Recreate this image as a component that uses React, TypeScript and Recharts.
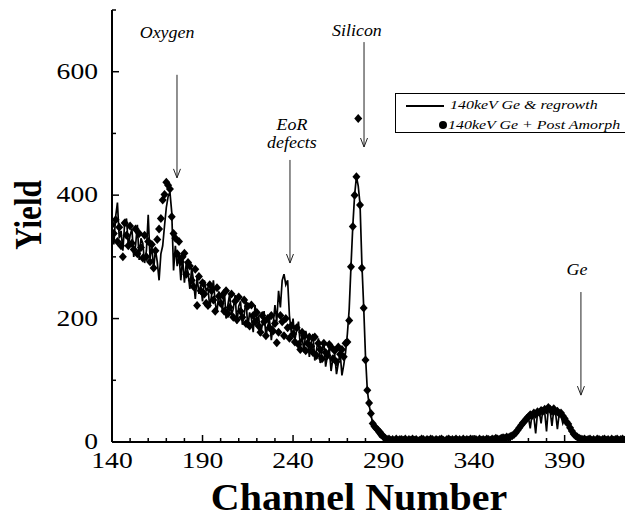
import React from 'react';
import { ComposedChart, Line, Scatter, XAxis, YAxis, ReferenceLine, ReferenceDot, Legend } from 'recharts';

const CHANNEL_START = 140;

// 140keV Ge & regrowth (line), one value per channel 140..425
const regrowth = [
  350, 320, 365, 388, 330, 342, 310, 355, 362, 318,
  335, 345, 300, 318, 352, 295, 330, 322, 290, 310,
  368, 298, 318, 280, 312, 292, 262, 305, 318, 350,
  380, 398, 405, 372, 278, 318, 285, 305, 262, 298,
  258, 290, 275, 248, 282, 262, 232, 268, 240, 255,
  228, 262, 245, 250, 218, 238, 262, 225, 210, 244,
  232, 212, 248, 200, 222, 240, 205, 216, 238, 192,
  220, 228, 190, 205, 232, 185, 210, 200, 178, 222,
  195, 205, 172, 190, 212, 170, 188, 198, 165, 190,
  222, 195, 245, 218, 262, 272, 255, 262, 205, 178,
  200, 165, 182, 195, 155, 172, 145, 180, 168, 138,
  160, 175, 132, 150, 168, 128, 148, 162, 122, 140,
  152, 115, 135, 142, 110, 128, 145, 108, 125, 145,
  175, 215, 285, 350, 400, 430, 415, 385, 290, 220,
  140, 85, 60, 45, 30, 22, 16, 12, 8, 6,
  5, 4, 3, 5, 2, 4, 3, 5, 2, 4,
  3, 5, 2, 4, 3, 5, 4, 2, 3, 5,
  4, 2, 5, 3, 4, 2, 5, 3, 4, 3,
  5, 2, 4, 3, 5, 4, 2, 3, 5, 4,
  2, 4, 3, 5, 3, 4, 2, 5, 3, 4,
  4, 3, 5, 2, 4, 3, 5, 4, 3, 5,
  4, 5, 3, 6, 4, 5, 6, 5, 7, 6,
  8, 9, 12, 14, 18, 20, 26, 28, 34, 35,
  40, 22, 45, 41, 14, 47, 50, 30, 53, 48,
  17, 55, 50, 26, 52, 47, 21, 46, 43, 30,
  37, 31, 27, 21, 16, 12, 9, 7, 5, 4,
  5, 3, 4, 5, 3, 4, 2, 5, 4, 3,
  4, 5, 3, 4, 2, 5, 3, 4, 5, 3,
  4, 3, 5, 4, 3, 4,
];

// 140keV Ge + Post Amorph (diamonds), one value per channel 140..425
const postAmorph = [
  352, 338, 360, 325, 348, 318, 300, 355, 335, 318,
  350, 322, 312, 345, 305, 338, 315, 298, 335, 300,
  325, 292, 320, 282, 310, 328, 345, 362, 392, 401,
  421, 416, 410, 365, 338, 330, 305, 325, 292, 300,
  306, 272, 291, 285, 262, 252, 280, 221, 268, 245,
  258, 240, 225, 221, 255, 245, 230, 212, 250, 236,
  225, 238, 212, 245, 208, 218, 240, 202, 228, 198,
  235, 212, 202, 230, 192, 220, 188, 222, 205, 195,
  210, 188, 178, 205, 195, 172, 200, 185, 205, 180,
  192, 161, 178, 205, 195, 172, 200, 185, 168, 188,
  175, 162, 185, 158, 150, 178, 172, 148, 160, 170,
  155, 145, 170, 140, 160, 150, 135, 160, 145, 140,
  158, 154, 135, 148, 130, 154, 142, 150, 138, 160,
  162, 197, 284, 349, 400, 430, 524, 384, 282, 217,
  133, 84, 63, 46, 30, 25, 22, 19, 16, 12,
  8, 6, 4, 5, 3, 4, 2, 5, 3, 4,
  4, 3, 5, 2, 4, 3, 5, 3, 4, 2,
  3, 5, 4, 2, 4, 3, 5, 4, 2, 4,
  3, 4, 5, 3, 2, 4, 5, 3, 4, 3,
  5, 3, 4, 2, 5, 3, 4, 3, 5, 4,
  3, 4, 2, 5, 3, 4, 3, 5, 4, 3,
  5, 4, 6, 5, 4, 6, 7, 6, 8, 7,
  9, 10, 12, 15, 19, 23, 27, 31, 34, 38,
  41, 44, 43, 47, 45, 49, 48, 51, 50, 53,
  52, 56, 53, 50, 54, 49, 50, 46, 47, 42,
  38, 33, 29, 23, 18, 13, 10, 8, 6, 5,
  4, 5, 3, 4, 5, 3, 4, 2, 5, 4,
  3, 4, 5, 3, 4, 2, 5, 3, 4, 5,
  3, 4, 5, 3, 4, 3,
];

const xTicks = [140, 150, 160, 170, 180, 190, 200, 210, 220, 230, 240, 250, 260, 270, 280, 290, 300, 310, 320, 330, 340, 350, 360, 370, 380, 390, 400, 410, 420];
const xLabelTicks = [140, 190, 240, 290, 340, 390];
const yTicks = [0, 100, 200, 300, 400, 500, 600, 700];
const yLabelTicks = [0, 200, 400, 600];

const seriesNames = ['140keV Ge & regrowth', '140keV Ge + Post Amorph'];

const arrowX = [175.9, 279.2, 238.3, 399];
const arrowTop = [595, 648, 457, 243];
const arrowBottom = [428, 478, 290, 76];
const noteText = ['Oxygen', 'Silicon', 'EoR', 'defects', 'Ge'];
const noteX = [170.4, 275.3, 239.4, 239.4, 396.8];
const noteY = [655, 658, 505, 476, 271];

const data = regrowth.map((v, i) => ({ ch: CHANNEL_START + i, regrowth: v, postAmorph: postAmorph[i] }));

const SERIF = "'Liberation Serif', 'Times New Roman', Times, serif";
const STRETCH = 1.2;

const SText = (props: any) => {
  const { x, y, sx = STRETCH, children, ...rest } = props;
  return (
    <text transform={`translate(${x} ${y}) scale(${sx} 1)`} x={0} y={0} fontFamily={SERIF} fill="#000" {...rest}>
      {children}
    </text>
  );
};

const Diamond = (props: any) => {
  const { cx, cy } = props;
  if (cx == null || cy == null) return null;
  return <polygon points={`${cx},${cy - 4.5} ${cx + 4},${cy} ${cx},${cy + 4.5} ${cx - 4},${cy}`} fill="#000" />;
};

const XTick = (props: any) => {
  const { x, y, payload } = props;
  const axisY = y - 8;
  const major = xLabelTicks.includes(payload.value);
  return (
    <g>
      <line x1={x} x2={x} y1={axisY} y2={axisY - (major ? 7 : 4)} stroke="#000" strokeWidth={1.5} />
      {major && (
        <SText x={x} y={y + 18} textAnchor="middle" fontSize={23}>
          {payload.value}
        </SText>
      )}
    </g>
  );
};

const YTick = (props: any) => {
  const { x, y, payload } = props;
  const axisX = x + 14;
  const major = yLabelTicks.includes(payload.value);
  return (
    <g>
      <line x1={axisX} x2={axisX + (major ? 7 : 4)} y1={y} y2={y} stroke="#000" strokeWidth={1.5} />
      {major && (
        <SText x={x} y={y + 7} textAnchor="end" fontSize={23}>
          {payload.value}
        </SText>
      )}
    </g>
  );
};

const Arrow = (props: any) => {
  const { x1, y1, x2, y2 } = props;
  if (x1 == null) return null;
  return (
    <g>
      <line x1={x1} y1={y1} x2={x2} y2={y2} stroke="#222" strokeWidth={1} />
      <polyline points={`${x2 - 3.5},${y2 - 9} ${x2},${y2} ${x2 + 3.5},${y2 - 9}`} fill="none" stroke="#222" strokeWidth={1} />
    </g>
  );
};

const makeNote = (t: string) => (props: any) => (
  <SText x={props.cx} y={props.cy} sx={1.12} textAnchor="middle" fontStyle="italic" fontSize={16}>
    {t}
  </SText>
);

const LegendBox = () => (
  <div
    style={{
      position: 'relative',
      width: 237,
      height: 40,
      boxSizing: 'border-box',
      border: '1px solid #000',
      background: '#fff',
      fontFamily: SERIF,
      fontStyle: 'italic',
      fontSize: 13.5,
      lineHeight: '15px',
      color: '#000',
    }}
  >
    <span style={{ position: 'absolute', left: 10, top: 11, width: 38, height: 2, background: '#000' }} />
    <span style={{ position: 'absolute', left: 54, top: 3, whiteSpace: 'nowrap', transform: 'scaleX(1.18)', transformOrigin: 'left' }}>{seriesNames[0]}</span>
    <span style={{ position: 'absolute', left: 43, top: 27, width: 8, height: 8, borderRadius: 4, background: '#000' }} />
    <span style={{ position: 'absolute', left: 52, top: 23, whiteSpace: 'nowrap', transform: 'scaleX(1.18)', transformOrigin: 'left' }}>{seriesNames[1]}</span>
  </div>
);

export default function App() {
  return (
    <ComposedChart width={625} height={512} data={data} margin={{ top: 2, right: 5, bottom: 0, left: 0 }}>
      <XAxis
        dataKey="ch"
        type="number"
        domain={[140, 425]}
        ticks={xTicks}
        interval={0}
        allowDataOverflow
        height={78}
        tickSize={0}
        tickMargin={8}
        tickLine={false}
        axisLine={{ stroke: '#000', strokeWidth: 2 }}
        tick={<XTick />}
        label={{
          content: (p: any) => {
            const vb = p.viewBox || { x: 104, y: 434, width: 516, height: 78 };
            return (
              <SText x={vb.x + vb.width / 2 - 11} y={vb.y + 68} sx={1.08} textAnchor="middle" fontWeight="bold" fontSize={37}>
                Channel Number
              </SText>
            );
          },
        }}
      />
      <YAxis
        type="number"
        domain={[0, 700]}
        ticks={yTicks}
        interval={0}
        allowDataOverflow
        width={104}
        tickSize={0}
        tickMargin={14}
        tickLine={false}
        axisLine={{ stroke: '#000', strokeWidth: 2 }}
        tick={<YTick />}
        label={{
          content: (p: any) => {
            const vb = p.viewBox || { x: 0, y: 2, width: 104, height: 432 };
            const cx = vb.x + 33;
            const cy = vb.y + vb.height / 2 - 11;
            return (
              <text transform={`translate(${cx} ${cy}) scale(1.25 1) rotate(-90)`} x={0} y={0} textAnchor="middle" fontFamily={SERIF} fontWeight="bold" fontSize={31} fill="#000">
                Yield
              </text>
            );
          },
        }}
      />
      <Legend layout="vertical" align="center" verticalAlign="middle" wrapperStyle={{ left: 387, top: 85, width: 237, height: 40 }} content={() => <LegendBox />} />
      <Line dataKey="regrowth" name={seriesNames[0]} stroke="#000" strokeWidth={1.7} dot={false} isAnimationActive={false} />
      <Scatter dataKey="postAmorph" name={seriesNames[1]} fill="#000" shape={<Diamond />} isAnimationActive={false} />
      {arrowX.map((x, i) => (
        <ReferenceLine key={`a${i}`} segment={[{ x, y: arrowTop[i] }, { x, y: arrowBottom[i] }]} shape={<Arrow />} />
      ))}
      {noteText.map((t, i) => (
        <ReferenceDot key={`n${i}`} x={noteX[i]} y={noteY[i]} r={0} shape={makeNote(t)} />
      ))}
    </ComposedChart>
  );
}
